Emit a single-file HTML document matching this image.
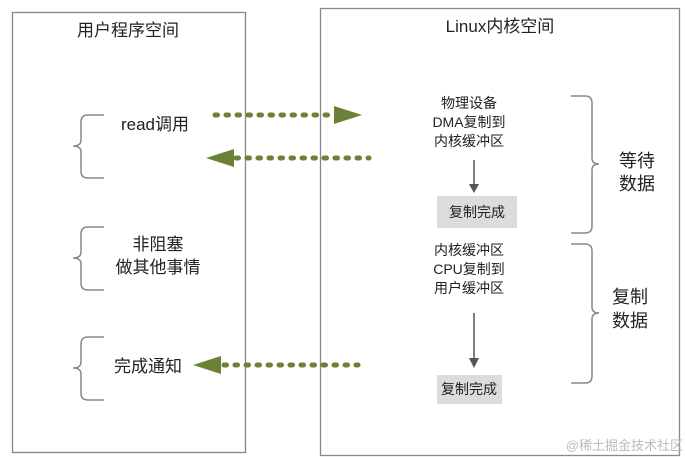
<!DOCTYPE html>
<html><head><meta charset="utf-8"><style>
html,body{margin:0;padding:0;background:#fff;}
svg{display:block;}
text{font-family:"Liberation Sans","Noto Sans CJK SC",sans-serif;fill:#222;}
</style></head><body>
<svg width="686" height="459" viewBox="0 0 686 459" xmlns="http://www.w3.org/2000/svg">
<rect x="12.5" y="12.5" width="233" height="440" fill="none" stroke="#888" stroke-width="1.3"/>
<rect x="320.5" y="8.5" width="359" height="447" fill="none" stroke="#888" stroke-width="1.3"/>
<text x="128" y="36" font-size="17" text-anchor="middle">用户程序空间</text>
<text x="500" y="32" font-size="17" text-anchor="middle">Linux内核空间</text>
<g fill="none" stroke="#888" stroke-width="1.5">
<path d="M104 115 H88 Q81 115 81 122 V140 Q81 146 73 146 Q81 146 81 152 V171 Q81 178 88 178 H104"/>
<path d="M104 227 H88 Q81 227 81 234 V252 Q81 258 73 258 Q81 258 81 264 V283 Q81 290 88 290 H104"/>
<path d="M104 337 H88 Q81 337 81 344 V362 Q81 368 73 368 Q81 368 81 374 V393 Q81 400 88 400 H104"/>
<path d="M571 96 H585 Q592 96 592 103 V158 Q592 164 599 164 Q592 164 592 170 V226 Q592 233 585 233 H571"/>
<path d="M571 244 H585 Q592 244 592 251 V307 Q592 313 599 313 Q592 313 592 319 V376 Q592 383 585 383 H571"/>
</g>
<text x="155" y="130" font-size="17" text-anchor="middle">read调用</text>
<text x="158" y="250" font-size="17" text-anchor="middle">非阻塞</text>
<text x="158" y="273" font-size="17" text-anchor="middle">做其他事情</text>
<text x="148" y="372" font-size="17" text-anchor="middle">完成通知</text>
<g stroke="#6b8236" stroke-width="5" stroke-dasharray="2.5 8.5" stroke-linecap="round" fill="none">
<line x1="215" y1="115" x2="334" y2="115"/>
<line x1="236" y1="158" x2="369" y2="158"/>
<line x1="224" y1="365" x2="358" y2="365"/>
</g>
<g fill="#6b8236">
<polygon points="334,106 362,115 334,124"/>
<polygon points="234,149 206,158 234,167"/>
<polygon points="221,356 193,365 221,374"/>
</g>
<g font-size="14" text-anchor="middle">
<text x="469" y="108">物理设备</text>
<text x="469" y="127">DMA复制到</text>
<text x="469" y="146">内核缓冲区</text>
<text x="469" y="255">内核缓冲区</text>
<text x="469" y="274">CPU复制到</text>
<text x="469" y="293">用户缓冲区</text>
</g>
<g stroke="#555" stroke-width="1.5"><line x1="474" y1="160" x2="474" y2="186"/><line x1="474" y1="313" x2="474" y2="360"/></g>
<g fill="#555"><polygon points="469,184 479,184 474,193"/><polygon points="469,358 479,358 474,368"/></g>
<rect x="437" y="196" width="80" height="32" fill="#dcdcdc"/>
<rect x="437" y="375" width="65" height="29" fill="#dcdcdc"/>
<text x="477" y="217" font-size="14" text-anchor="middle">复制完成</text>
<text x="469" y="394" font-size="14" text-anchor="middle">复制完成</text>
<g font-size="18" text-anchor="middle">
<text x="637" y="167">等待</text>
<text x="637" y="190">数据</text>
<text x="630" y="303">复制</text>
<text x="630" y="327">数据</text>
</g>
<text x="683" y="450" font-size="13" text-anchor="end" style="fill:#bbb">@稀土掘金技术社区</text>
</svg>
</body></html>
